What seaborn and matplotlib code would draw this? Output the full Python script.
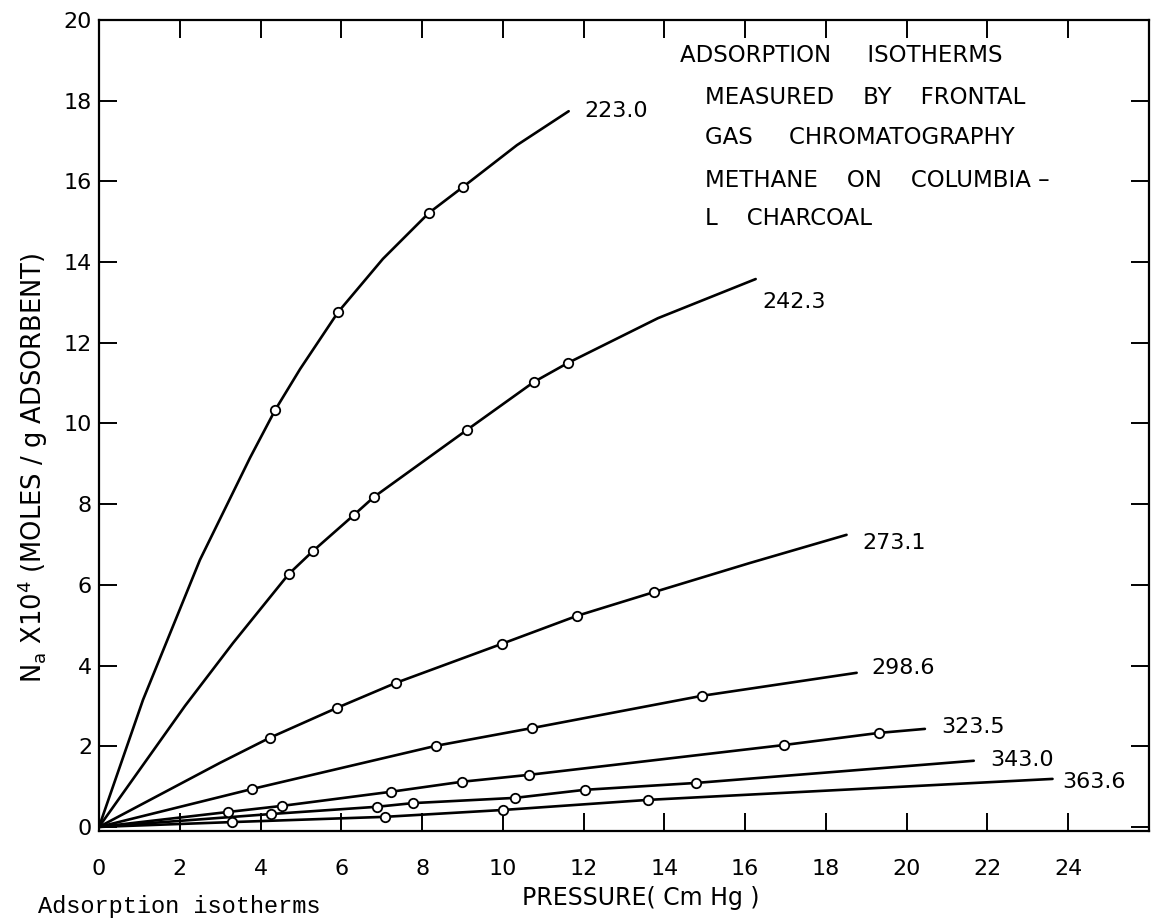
import matplotlib
matplotlib.use("Agg")
import matplotlib.pyplot as plt
import seaborn as sns
import pandas as pd

sns.set_style("ticks")
plt.rcParams["font.family"] = ["DejaVu Sans"]
plt.rcParams["mathtext.fontset"] = "dejavusans"
plt.rcParams["text.color"] = "black"
plt.rcParams["axes.labelcolor"] = "black"

# Isotherm temperatures (K)
temperatures = ["223.0", "242.3", "273.1", "298.6", "323.5", "343.0", "363.6"]

# Smooth isotherm curves: pressure (cm Hg) and amount adsorbed (x10^4 mol/g)
curve_p_223 = [0, 1.09, 2.50, 3.74, 4.36, 4.98, 5.92, 7.03, 8.17, 9.01, 10.35, 11.63]
curve_n_223 = [0, 3.15, 6.62, 9.15, 10.33, 11.35, 12.76, 14.08, 15.22, 15.86, 16.90, 17.74]
curve_p_242 = [0, 2.13, 3.32, 4.70, 5.30, 6.31, 6.81, 9.11, 10.77, 11.61, 13.84, 16.26]
curve_n_242 = [0, 3.00, 4.56, 6.27, 6.84, 7.73, 8.18, 9.84, 11.03, 11.50, 12.61, 13.58]
curve_p_273 = [0, 3.00, 4.23, 5.89, 7.35, 9.98, 11.83, 13.74, 16.11, 18.51]
curve_n_273 = [0, 1.59, 2.21, 2.95, 3.57, 4.54, 5.23, 5.82, 6.54, 7.24]
curve_p_298 = [0, 3.79, 8.34, 10.72, 14.93, 18.76]
curve_n_298 = [0, 0.94, 2.01, 2.45, 3.25, 3.82]
curve_p_323 = [0, 3.19, 4.52, 7.22, 8.99, 10.64, 16.96, 19.31, 20.45]
curve_n_323 = [0, 0.37, 0.52, 0.87, 1.12, 1.29, 2.03, 2.33, 2.43]
curve_p_343 = [0, 4.26, 6.89, 7.77, 10.30, 12.03, 14.78, 21.66]
curve_n_343 = [0, 0.32, 0.50, 0.59, 0.72, 0.92, 1.09, 1.64]
curve_p_363 = [0, 3.29, 7.08, 10.00, 13.59, 23.61]
curve_n_363 = [0, 0.12, 0.25, 0.42, 0.67, 1.19]

# Measured points (open circles)
meas_p_223 = [4.36, 5.92, 8.17, 9.01]
meas_n_223 = [10.33, 12.76, 15.22, 15.86]
meas_p_242 = [4.70, 5.30, 6.31, 6.81, 9.11, 10.77, 11.61]
meas_n_242 = [6.27, 6.84, 7.73, 8.18, 9.84, 11.03, 11.50]
meas_p_273 = [4.23, 5.89, 7.35, 9.98, 11.83, 13.74]
meas_n_273 = [2.21, 2.95, 3.57, 4.54, 5.23, 5.82]
meas_p_298 = [3.79, 8.34, 10.72, 14.93]
meas_n_298 = [0.94, 2.01, 2.45, 3.25]
meas_p_323 = [3.19, 4.52, 7.22, 8.99, 10.64, 16.96, 19.31]
meas_n_323 = [0.37, 0.52, 0.87, 1.12, 1.29, 2.03, 2.33]
meas_p_343 = [4.26, 6.89, 7.77, 10.30, 12.03, 14.78]
meas_n_343 = [0.32, 0.50, 0.59, 0.72, 0.92, 1.09]
meas_p_363 = [3.29, 7.08, 10.00, 13.59]
meas_n_363 = [0.12, 0.25, 0.42, 0.67]

x_ticks = list(range(0, 25, 2))
y_ticks = list(range(0, 21, 2))

curves = [
    (curve_p_223, curve_n_223), (curve_p_242, curve_n_242), (curve_p_273, curve_n_273),
    (curve_p_298, curve_n_298), (curve_p_323, curve_n_323), (curve_p_343, curve_n_343),
    (curve_p_363, curve_n_363),
]
measured = [
    (meas_p_223, meas_n_223), (meas_p_242, meas_n_242), (meas_p_273, meas_n_273),
    (meas_p_298, meas_n_298), (meas_p_323, meas_n_323), (meas_p_343, meas_n_343),
    (meas_p_363, meas_n_363),
]
# label offsets from the curve end, in pixels
label_offsets = [(16, 0), (7, -23), (16, -8), (15, 5), (16, 2), (16, 1), (10, -3)]

curve_df = pd.concat(
    [pd.DataFrame({"p": p, "n": n, "T": t}) for t, (p, n) in zip(temperatures, curves)],
    ignore_index=True,
)
point_df = pd.concat(
    [pd.DataFrame({"p": p, "n": n, "T": t}) for t, (p, n) in zip(temperatures, measured)],
    ignore_index=True,
)

fig = plt.figure(figsize=(11.51, 9.19), dpi=100)
ax = fig.add_axes([0.086, 0.0958, 0.9123, 0.8824])

for t in temperatures:
    sub = curve_df[curve_df["T"] == t]
    sns.lineplot(data=sub, x="p", y="n", sort=False, estimator=None,
                 color="black", linewidth=1.9, ax=ax, zorder=2)
sns.scatterplot(data=point_df, x="p", y="n", s=46, color="white",
                edgecolor="black", linewidth=1.3, ax=ax, zorder=3, legend=False)

for t, (p, n), (dx, dy) in zip(temperatures, curves, label_offsets):
    ax.annotate(t, xy=(p[-1], n[-1]), xytext=(dx, dy), textcoords="offset pixels",
                ha="left", va="center", fontsize=16, color="black")

ax.set_xlim(0, 26)
ax.set_ylim(-0.1, 20)
ax.set_xticks(x_ticks)
ax.set_yticks(y_ticks)
ax.set_xticklabels([str(v) for v in x_ticks])
ax.set_yticklabels([str(v) for v in y_ticks])
ax.tick_params(axis="both", direction="in", top=True, right=True,
               length=13, width=1.4, labelsize=16, colors="black")
ax.tick_params(axis="x", pad=20)
ax.tick_params(axis="y", pad=5)
for s in ax.spines.values():
    s.set_visible(True)
    s.set_linewidth(1.6)
    s.set_color("black")

ax.set_xlabel("PRESSURE( Cm Hg )", fontsize=17, va="center")
ax.xaxis.set_label_coords(0.516, -0.083)
ax.set_ylabel("")
fig.text(33 / 1151, 1 - 468 / 919, r"N$_{\rm a}$ X10$^{4}$ (MOLES / g ADSORBENT)",
         rotation=90, ha="center", va="center", fontsize=18.5)

note_lines = [
    ("ADSORPTION     ISOTHERMS", 14.38, 19.13),
    ("MEASURED    BY    FRONTAL", 15.0, 18.07),
    ("GAS     CHROMATOGRAPHY", 15.0, 17.10),
    ("METHANE    ON    COLUMBIA \u2013", 15.0, 16.03),
    ("L    CHARCOAL", 15.0, 15.09),
]
for txt, xx, yy in note_lines:
    ax.text(xx, yy, txt, ha="left", va="center", fontsize=16.5, color="black")

fig.text(38 / 1151, 1 - 913 / 919, "Adsorption isotherms", family="Liberation Mono",
         fontsize=17, ha="left", va="baseline", color="black")

fig.savefig("out.png", dpi=100)
